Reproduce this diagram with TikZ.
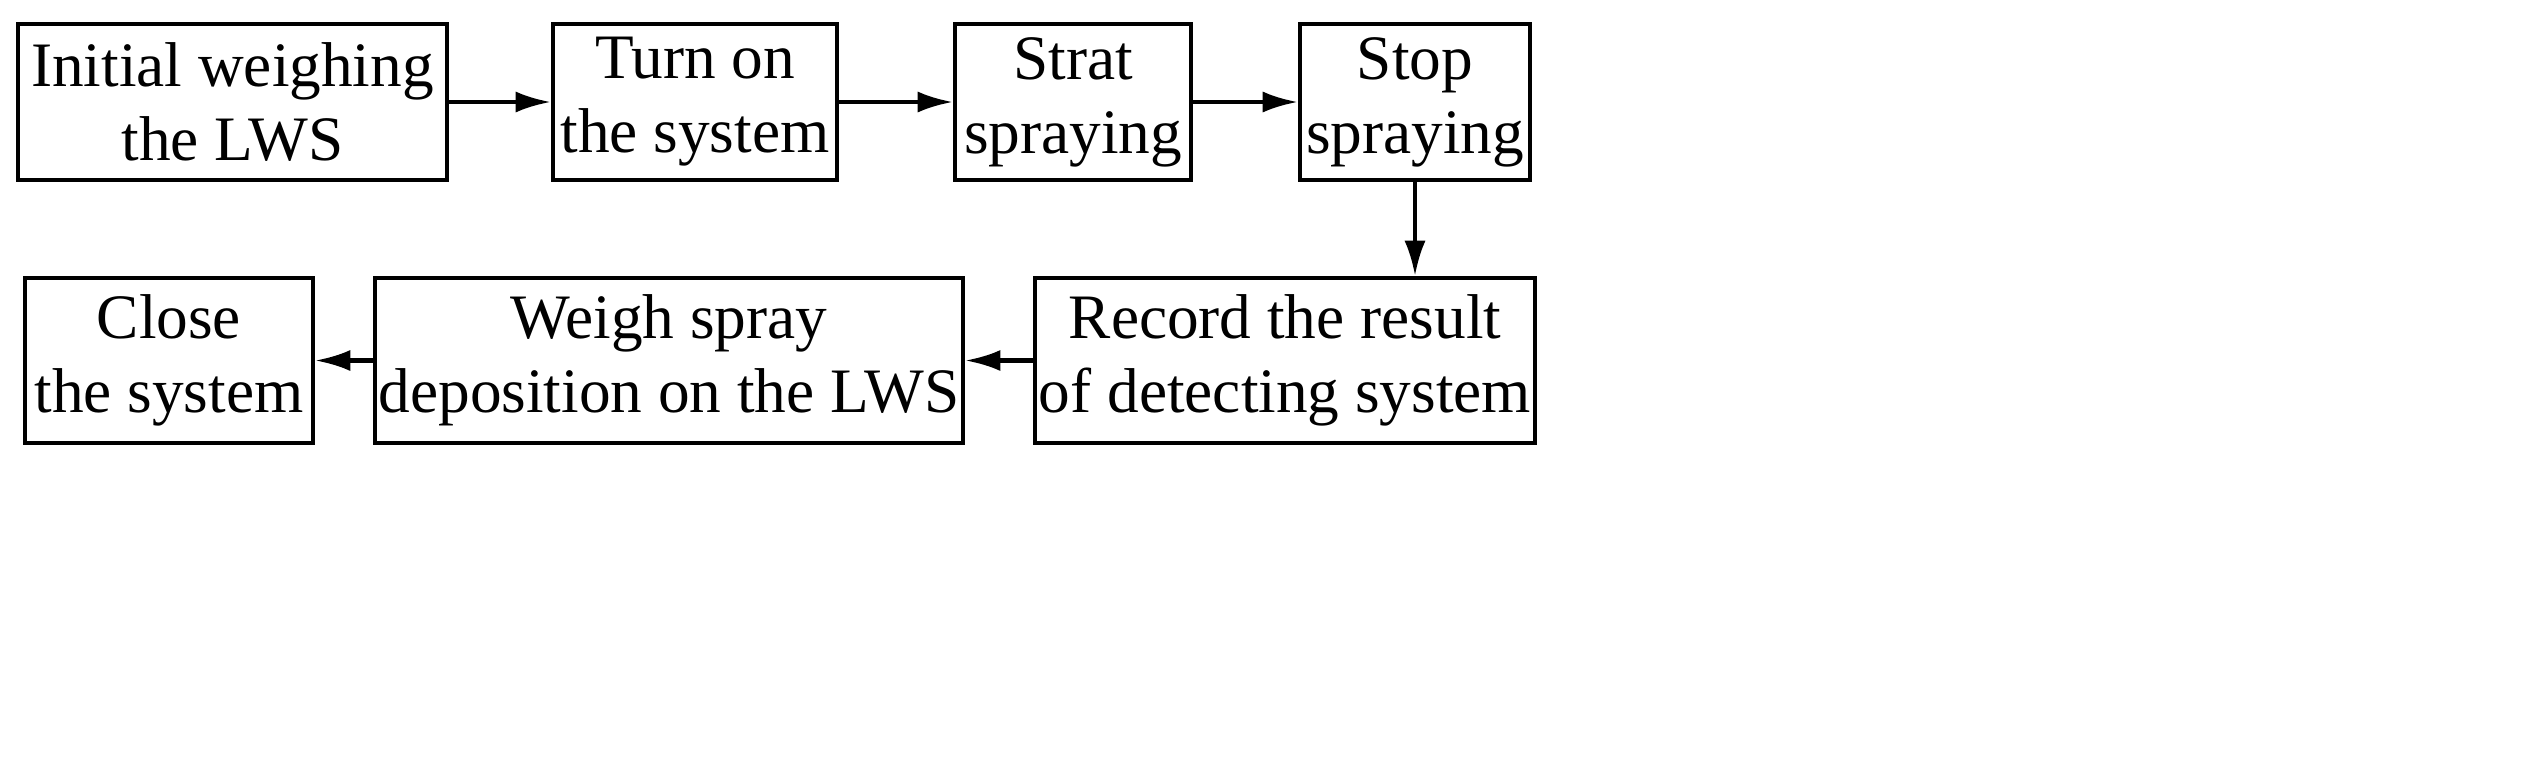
\documentclass[tikz,border=0pt]{standalone}
\usepackage{fontspec}
\setmainfont{Liberation Serif}
\usetikzlibrary{arrows.meta}
\begin{document}
\begin{tikzpicture}[x=0.01cm,y=-0.01cm,
  box/.style={draw,line width=1.2pt,align=center,inner sep=0pt,font=\fontsize{18}{21}\selectfont},
  arr/.style={line width=1.2pt,-{Latex[length=10pt,width=6pt]}}]
\useasboundingbox (0,0) rectangle (2521,766);
\node[box,minimum width=4.29cm,minimum height=1.56cm] (a) at (232.5,102) {Initial weighing\\the LWS};
\node[box,minimum width=2.84cm,minimum height=1.56cm] (b) at (695,102) {Turn on\\the system};
\node[box,minimum width=2.36cm,minimum height=1.56cm] (c) at (1073,102) {Strat\\spraying};
\node[box,minimum width=2.30cm,minimum height=1.56cm] (d) at (1415,102) {Stop\\spraying};
\node[box,minimum width=5.00cm,minimum height=1.65cm] (g) at (1285,360.5) {Record the result\\of detecting system};
\node[box,minimum width=5.88cm,minimum height=1.65cm] (f) at (669,360.5) {Weigh spray\\deposition on the LWS};
\node[box,minimum width=2.88cm,minimum height=1.65cm] (e) at (169,360.5) {Close\\the system};
\draw[arr] (a) -- (b);
\draw[arr] (b) -- (c);
\draw[arr] (c) -- (d);
\draw[arr] (d.south) -- (d.south |- g.north);
\draw[arr] (g) -- (f);
\draw[arr] (f) -- (e);
\end{tikzpicture}
\end{document}
